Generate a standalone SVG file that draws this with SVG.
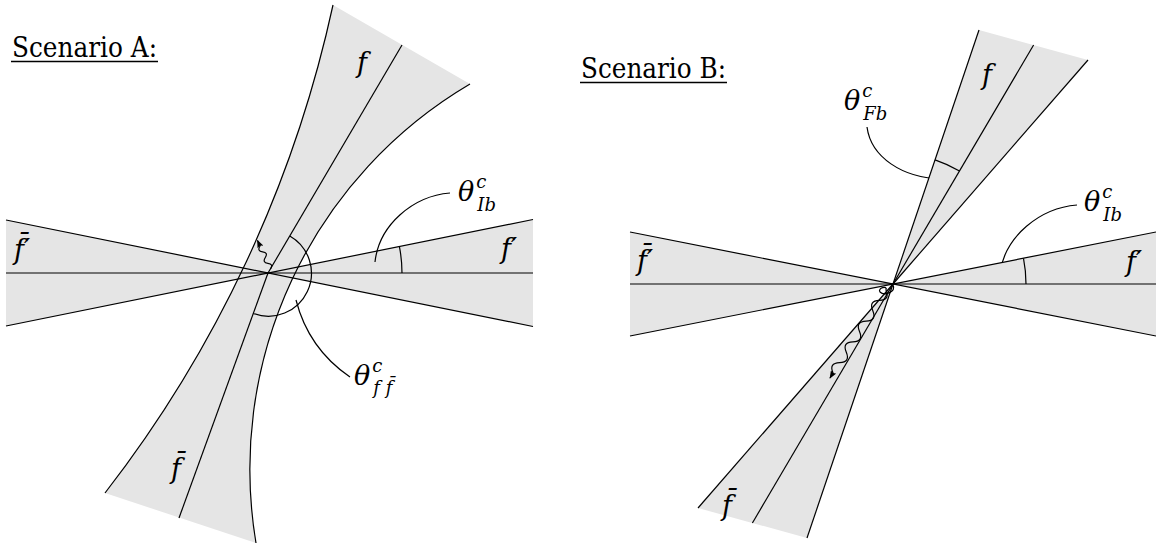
<svg xmlns="http://www.w3.org/2000/svg" width="1156" height="544" viewBox="0 0 1156 544">
<style>
.g{fill:#e5e5e5;stroke:none}
.l{fill:none;stroke:#000;stroke-width:1.2}
text{font-family:'DejaVu Serif','Liberation Serif','Noto Serif',serif;fill:#000}
.t{font-size:28px}
.m{font-style:italic;font-size:27px}
.s{font-size:18px}
</style>
<defs>
<marker id="ah" viewBox="0 0 10 8" refX="9" refY="4" markerWidth="8" markerHeight="6.4" markerUnits="userSpaceOnUse" orient="auto">
<path d="M0,0 Q3,4 0,8 L10,4 Z" fill="#000"/>
</marker>
</defs>
<rect width="1156" height="544" fill="#fff"/>

<!-- Scenario A -->
<g id="titleA"><text class="t" x="12" y="57" textLength="145" lengthAdjust="spacingAndGlyphs">Scenario A:</text><line x1="11" y1="61.5" x2="158" y2="61.5" stroke="#000" stroke-width="1.6"/></g>
<g id="A-horizontal-jets">
<path class="g" d="M268,273 L533,219.5 L533,326.5 Z"/>
<path class="g" d="M268,273 L6,220 L6,326 Z"/>
</g>
<g id="A-band">
<path class="g" d="M333,5 L470,84 A447,447 0 0 0 256,543 L105,493 A1218,1218 0 0 0 333,5 Z"/>
</g>
<g id="A-lines">
<line class="l" x1="6" y1="273" x2="533" y2="273"/>
<line class="l" x1="6" y1="220" x2="533" y2="326.5"/>
<line class="l" x1="6" y1="326" x2="533" y2="219.5"/>
<path class="l" d="M333,5 A1218,1218 0 0 1 105,493"/>
<path class="l" d="M470,84 A447,447 0 0 0 256,543"/>
<line class="l" x1="402" y1="45" x2="268" y2="273"/>
<line class="l" x1="268" y1="273" x2="179" y2="518"/>
</g>
<g id="A-angles">
<path class="l" d="M402,273 A134,134 0 0 0 399.4,246.7"/>
<path class="l" d="M289.8,235.9 A43,43 0 0 1 253.4,313.5"/>
</g>
<g id="A-photon">
<path class="l" d="M270.5,269 Q273.7,264 267.9,263.3 Q262.1,262.5 265.3,257.5 Q268.4,252.5 262.6,251.8 Q256.8,251 260,246 L257.5,240.5" marker-end="url(#ah)"/>
</g>
<g id="A-labels">
<text class="m" x="357" y="72">f</text>
<text class="m" x="501" y="258">f′</text>
<text class="m" x="14" y="259">f̄′</text>
<text class="m" x="171" y="478">f̄</text>
<text id="A-thetaIb" class="m" x="458" y="201">θ<tspan class="s" dx="2" dy="-13">c</tspan><tspan class="s" dx="-9" dy="23">Ib</tspan></text>
<text id="A-thetaff" class="m" x="354" y="385">θ<tspan class="s" dx="2" dy="-13">c</tspan><tspan class="s" dx="-9" dy="22">f f̄</tspan></text>
</g>
<g id="connectors">
<path class="l" d="M375,262 C379,225 413,196 450,193"/>
<path class="l" d="M296,300 C305,335 325,360 350,377"/>
<path class="l" d="M942,179 C902,178 871,157 867,127"/>
<path class="l" d="M1000,273 C1005,236 1040,208 1077,205"/>
</g>

<!-- Scenario B -->
<g id="titleB"><text class="t" x="581" y="78" textLength="145" lengthAdjust="spacingAndGlyphs">Scenario B:</text><line x1="580" y1="82.5" x2="727" y2="82.5" stroke="#000" stroke-width="1.6"/></g>
<g id="B-jets">
<path class="g" d="M893,284 L1156,232 L1156,336 Z"/>
<path class="g" d="M893,284 L630,232 L630,336 Z"/>
<path class="g" d="M893,284 L979,30 L1088,60 Z"/>
<path class="g" d="M893,284 L807,538 L698,508 Z"/>
</g>
<g id="B-lines">
<line class="l" x1="630" y1="284" x2="1156" y2="284"/>
<line class="l" x1="630" y1="232" x2="1156" y2="336"/>
<line class="l" x1="630" y1="336" x2="1156" y2="232"/>
<line class="l" x1="893" y1="284" x2="979" y2="30"/>
<line class="l" x1="893" y1="284" x2="1033.6" y2="45"/>
<line class="l" x1="893" y1="284" x2="1088" y2="60"/>
<line class="l" x1="893" y1="284" x2="807" y2="538"/>
<line class="l" x1="893" y1="284" x2="752.4" y2="523"/>
<line class="l" x1="893" y1="284" x2="698" y2="508"/>
</g>
<g id="B-angles">
<path class="l" d="M935,159.9 A131,131 0 0 1 959.5,171.1"/>
<path class="l" d="M1026,284 A133,133 0 0 0 1023.5,258.4"/>
</g>
<g id="B-photon">
<path class="l" d="M893,285 C897,292 884,296 880,292 C877,288 888,285 886,290 Q890.3,300 879.4,300.4 Q868.5,300.7 872.8,310.8 Q877,320.8 866.1,321.1 Q855.2,321.5 859.5,331.5 Q863.8,341.5 852.9,341.9 Q842,342.2 846.3,352.3 Q850.5,362.3 839.6,362.6 Q828.7,363 833,373 L830,378" marker-end="url(#ah)"/>
</g>
<g id="B-labels">
<text class="m" x="982" y="84">f</text>
<text class="m" x="1126" y="271">f′</text>
<text class="m" x="637" y="270">f̄′</text>
<text class="m" x="722" y="515">f̄</text>
<text id="B-thetaFb" class="m" x="844" y="110">θ<tspan class="s" dx="2" dy="-13">c</tspan><tspan class="s" dx="-9" dy="23">Fb</tspan></text>
<text id="B-thetaIb" class="m" x="1084" y="211">θ<tspan class="s" dx="2" dy="-13">c</tspan><tspan class="s" dx="-9" dy="23">Ib</tspan></text>
</g>
</svg>
